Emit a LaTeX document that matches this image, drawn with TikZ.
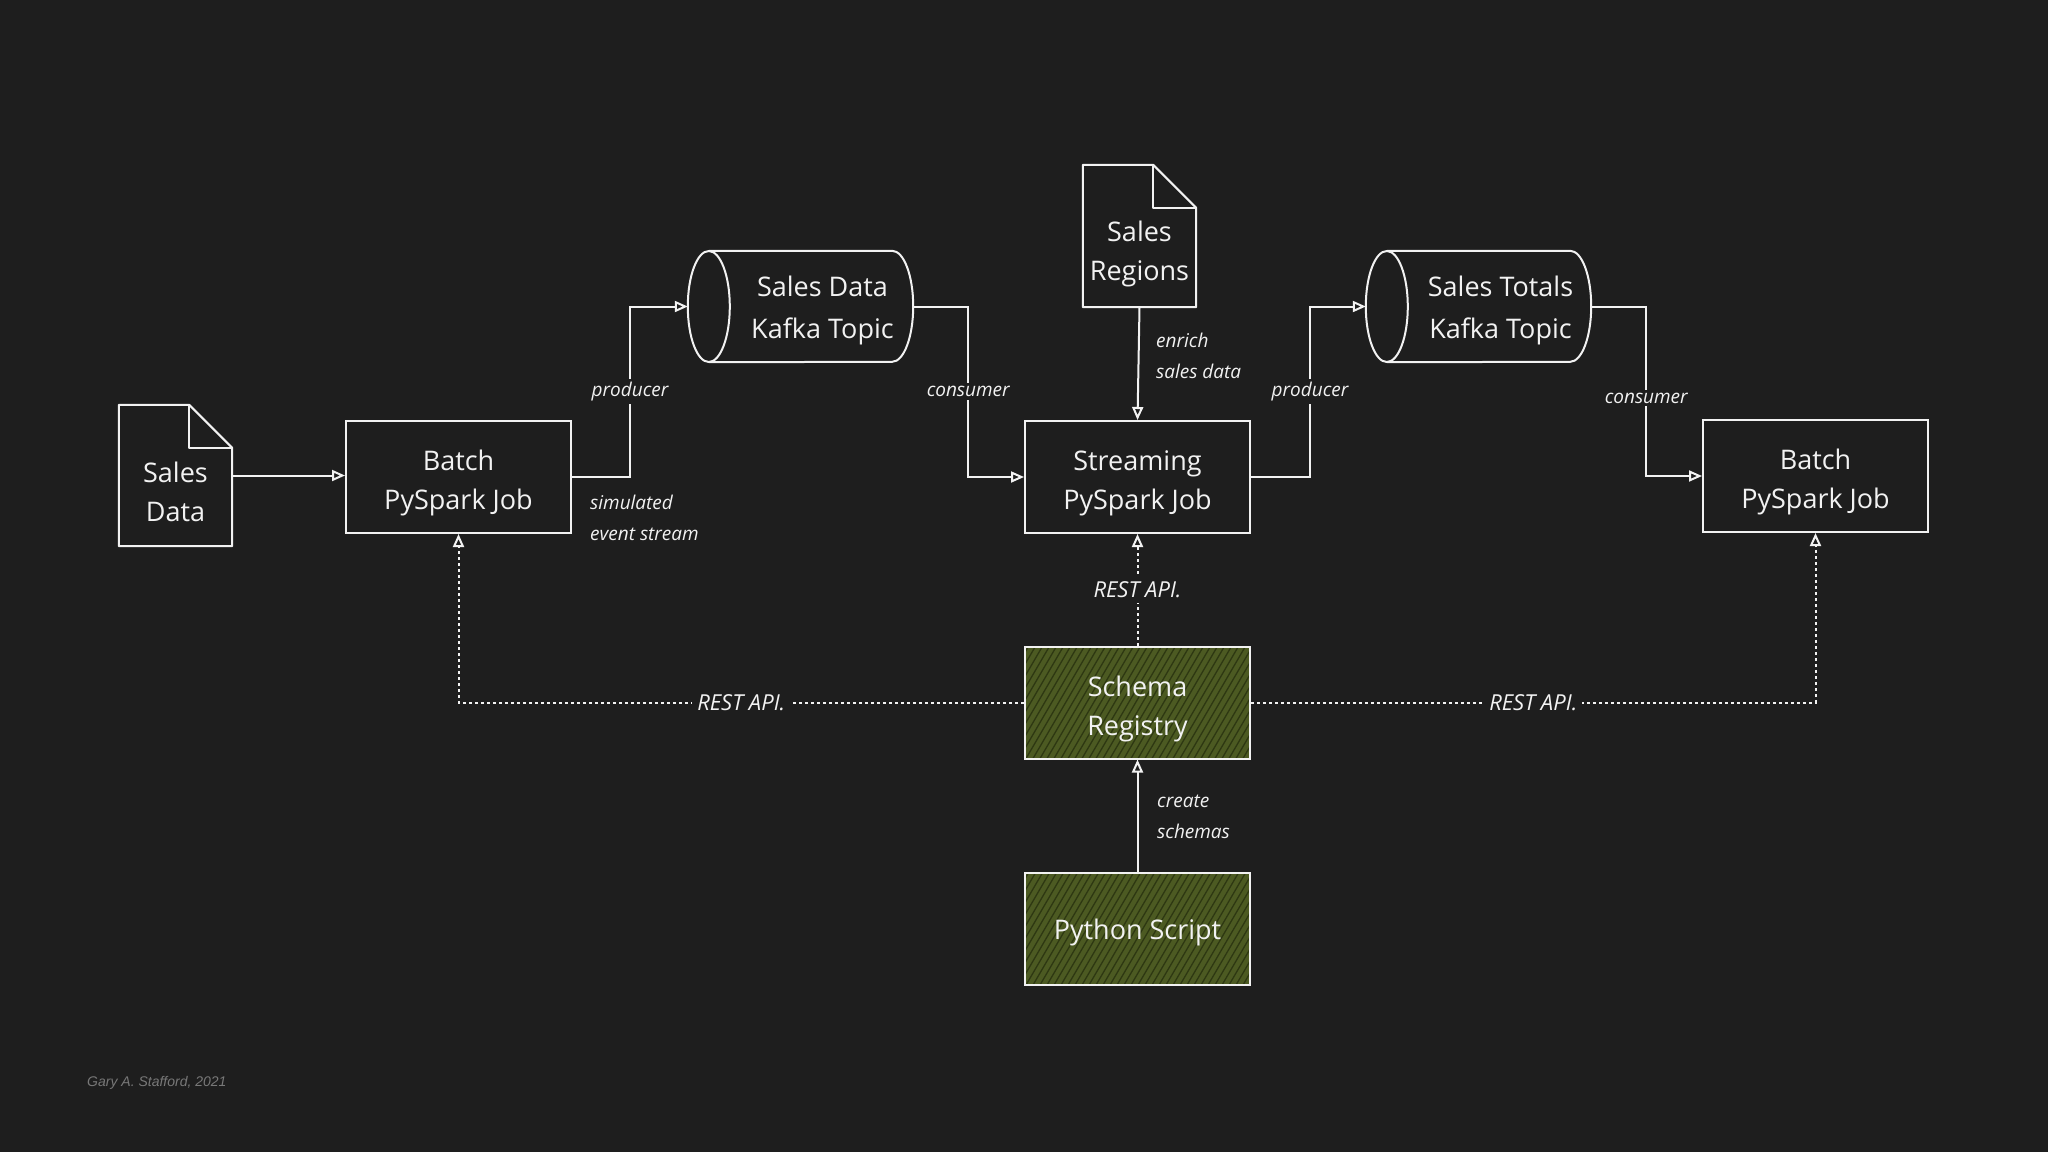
\documentclass[tikz,border=0pt]{standalone}
\usepackage{fontspec}
\setmainfont{Open Sans}
\newfontfamily\footfnt{Liberation Sans}
\usetikzlibrary{arrows.meta,calc}
\definecolor{bg}{RGB}{30,30,30}
\definecolor{ink}{RGB}{242,242,242}
\definecolor{olivefill}{RGB}{76,90,34}
\definecolor{hatchc}{RGB}{46,56,18}
\definecolor{footc}{RGB}{120,120,120}
\newcommand\mainfnt{\fontsize{27}{39}\selectfont}
\newcommand\cylfnt{\fontsize{27}{42}\selectfont}
\newcommand\smallfnt{\itshape\fontsize{19}{31}\selectfont}
\newcommand\restfnt{\itshape\fontsize{22}{26}\selectfont}
\newcommand\docshape[1]{%
  \draw[outline] (#1.north west) -- ([xshift=-43pt]#1.north east) -- ([yshift=-43pt]#1.north east) -- (#1.south east) -- (#1.south west) -- cycle;
  \draw[outline] ([xshift=-43pt]#1.north east) -- ([xshift=-43pt,yshift=-43pt]#1.north east) -- ([yshift=-43pt]#1.north east);}
\newcommand\kafkacyl[1]{%
  \draw[outline] ([xshift=21pt]#1.north west) -- ([xshift=-21pt]#1.north east) arc[start angle=90,end angle=-90,x radius=21pt,y radius=55.5pt] -- ([xshift=21pt]#1.south west);
  \draw[outline] ([xshift=21pt]#1.west) ellipse[x radius=21pt, y radius=55.5pt];}
\tikzset{
  outline/.style={draw=ink, line width=2pt, line join=round},
  frame/.style={draw=none, inner sep=0pt},
  txt/.style={text=ink, font=\mainfnt, align=center, inner sep=0pt},
  boxframe/.style={draw=ink, line width=2pt, minimum width=225pt, minimum height=112pt, inner sep=0pt},
  hatched/.style={fill=olivefill, path picture={
      \foreach \i in {-90,-83,...,240}
        \draw[hatchc, line width=1.3pt] ([xshift=\i pt]path picture bounding box.south west) -- ++(70pt,120pt);}},
  conn/.style={draw=ink, line width=2pt, -{Triangle[open,length=13pt,width=11pt]}},
  dconn/.style={conn, dash pattern=on 3pt off 3pt},
  tag/.style={fill=bg, text=ink, font=\smallfnt, inner sep=3pt},
  resttag/.style={fill=bg, text=ink, font=\restfnt, inner sep=5pt},
  note/.style={text=ink, font=\smallfnt, align=left, inner sep=0pt, anchor=west},
}
\begin{document}
\begin{tikzpicture}[x=1pt,y=-1pt]
\fill[bg] (0,0) rectangle (2048,1152);
\useasboundingbox (0,0) rectangle (2048,1152);

% nodes
\node[frame, minimum width=113pt, minimum height=141pt] (sd) at (175.5,475.5) {};
\docshape{sd}
\node[txt] (sdt) at ([yshift=-16pt]sd.center) {Sales\\Data};

\node[boxframe] (b1) at (458.5,477) {};
\node[txt] (b1t) at ([yshift=-6pt]b1.center) {Batch\\PySpark Job};

\node[frame, minimum width=225pt, minimum height=111pt] (sdk) at (800.5,306.5) {};
\kafkacyl{sdk}
\node[txt, font=\cylfnt] (sdkt) at ([xshift=22pt,yshift=-4pt]sdk.center) {Sales Data\\Kafka Topic};

\node[frame, minimum width=113pt, minimum height=142pt] (sr) at (1139.5,236) {};
\docshape{sr}
\node[txt] (srt) at ([yshift=-18pt]sr.center) {Sales\\Regions};

\node[boxframe] (st) at (1137.5,477) {};
\node[txt] (stt) at ([yshift=-6pt]st.center) {Streaming\\PySpark Job};

\node[frame, minimum width=225pt, minimum height=111pt] (stk) at (1478.5,306.5) {};
\kafkacyl{stk}
\node[txt, font=\cylfnt] (stkt) at ([xshift=22pt,yshift=-4pt]stk.center) {Sales Totals\\Kafka Topic};

\node[boxframe] (b2) at (1815.5,476) {};
\node[txt] (b2t) at ([yshift=-6pt]b2.center) {Batch\\PySpark Job};

\node[boxframe, hatched] (sch) at (1137.5,702.5) {};
\node[txt] (scht) at ([yshift=-6pt]sch.center) {Schema\\Registry};
\node[boxframe, hatched] (ps) at (1137.5,929) {};
\node[txt] (pst) at ([yshift=-3pt]ps.center) {Python Script};

% connectors
\draw[conn] (sd.east) -- (sd.east -| b1.west);
\draw[conn] (b1.east) -- ++(58,0) |- node[pos=0.25, tag] (lp1) {producer} (sdk.west);
\node[note] (sim) at (590,518) {simulated\\event stream};
\draw[conn] (sdk.east) -- ++(55,0) |- node[pos=0.25, tag] (lc1) {consumer} (st.west);
\draw[conn] (sr.south) -- (st.north);
\node[note] (enr) at (1156,356) {enrich\\sales data};
\draw[conn] (st.east) -- ++(59,0) |- node[pos=0.25, tag] (lp2) {producer} (stk.west);
\draw[conn] (stk.east) -- ++(55,0) |- node[pos=0.27, tag] (lc2) {consumer} (b2.west);

\draw[dconn] (sch.north) -- node[resttag] (r1) {REST API.} (st.south);
\draw[dconn] (sch.west) -| node[pos=0.25, resttag] (r2) {REST API.} (b1.south);
\draw[dconn] (sch.east) -| node[pos=0.25, resttag] (r3) {REST API.} (b2.south);

\draw[conn] (ps.north) -- (sch.south);
\node[note] (cs) at (1157,817) {create\\schemas};

\node[text=footc, font=\footfnt\itshape\fontsize{14}{16}\selectfont, anchor=west, inner sep=0pt] (ft) at (87,1083) {Gary A. Stafford, 2021};
\end{tikzpicture}
\end{document}
